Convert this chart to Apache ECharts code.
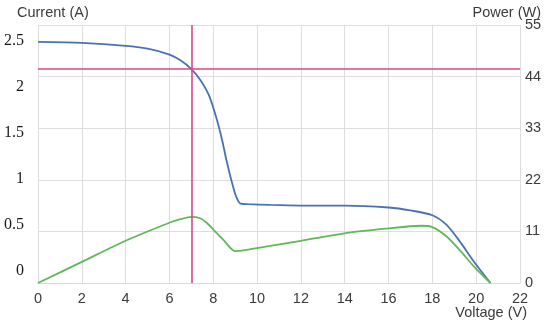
<!DOCTYPE html>
<html><head><meta charset="utf-8">
<script src="https://cdn.jsdelivr.net/npm/echarts@6/dist/echarts.min.js"></script>
<style>html,body{margin:0;padding:0;background:#fff}#c{width:550px;height:327px}</style>
</head><body><div id="c"></div>
<script>
// Data
var currentV = [0, 2, 4, 5, 6, 6.5, 7, 7.4, 7.8, 8.15, 8.4, 8.6, 8.85, 9.05, 9.25, 9.6, 10.6, 12, 14, 16, 17, 18, 18.65, 19.25, 19.9, 20.65];
var currentA = [2.49, 2.48, 2.45, 2.42, 2.36, 2.30, 2.21, 2.10, 1.94, 1.70, 1.48, 1.27, 1.04, 0.89, 0.82, 0.815, 0.806, 0.80, 0.80, 0.78, 0.75, 0.70, 0.60, 0.43, 0.22, 0];
var powerV = [0, 2, 4, 6, 6.5, 7, 7.4, 7.7, 8, 8.46, 9, 10.6, 12, 14, 16, 17, 17.5, 18, 18.65, 19.25, 19.9, 20.65];
var powerW = [0, 4.5, 9.0, 12.85, 13.6, 14.1, 13.8, 12.85, 11.4, 9.2, 6.8, 7.9, 9.0, 10.6, 11.66, 12.1, 12.2, 11.9, 9.9, 7.0, 3.5, 0];
var mppVoltage = 7.0;
var mppCurrent = 2.21;
var currentTicks = [0, 0.5, 1, 1.5, 2, 2.5];
var powerTicks = [0, 11, 22, 33, 44, 55];
var voltageTicks = [0, 2, 4, 6, 8, 10, 12, 14, 16, 18, 20, 22];

function pairs(xs, ys){ return xs.map(function(x,i){ return [x, ys[i]]; }); }

var chart = echarts.init(document.getElementById('c'), null, {renderer:'canvas'});
var txt = '#3a3a3a';
chart.setOption({
  animation:false,
  backgroundColor:'#fff',
  grid:[
    {left:38, right:30, top:25, bottom:44},
    {left:38, right:30, top:41, height:230}
  ],
  xAxis:[
    {gridIndex:0, type:'value', min:0, max:22, interval:2,
     axisLine:{show:true, lineStyle:{color:'#d9d9d9'}}, axisTick:{show:false},
     axisLabel:{color:txt, fontSize:14.5, fontFamily:'Liberation Sans, Arial', margin:8},
     splitLine:{show:true, lineStyle:{color:'#dedede', width:1}}},
    {gridIndex:1, type:'value', min:0, max:22, show:false}
  ],
  yAxis:[
    {gridIndex:0, type:'value', min:0, max:2.665, show:true,
     axisLine:{show:false}, axisTick:{show:false}, axisLabel:{show:false}, splitLine:{show:false}},
    {gridIndex:0, type:'value', min:0, max:55, interval:11, position:'right',
     axisLine:{show:false}, axisTick:{show:false},
     axisLabel:{color:txt, fontSize:14.5, fontFamily:'Liberation Sans, Arial', margin:5,
       formatter:function(v){ return powerTicks.indexOf(v) >= 0 ? String(v) : ''; }},
     splitLine:{show:true, lineStyle:{color:'#dedede', width:1}}},
    {gridIndex:1, type:'value', min:0, max:2.5, interval:0.5, position:'left',
     axisLine:{show:false}, axisTick:{show:false}, splitLine:{show:false},
     axisLabel:{color:'#1a1a1a', fontSize:16, fontFamily:'Liberation Serif, Times New Roman', margin:14,
       formatter:function(v){ return currentTicks.indexOf(v) >= 0 ? String(v) : ''; }}}
  ],
  series:[
    {type:'line', xAxisIndex:0, yAxisIndex:0, data:pairs(currentV, currentA), smooth:0.25,
     showSymbol:false, lineStyle:{color:'#4a72b2', width:1.8}, z:3,
     markLine:{silent:true, symbol:'none', label:{show:false},
       lineStyle:{color:'#d9478a', width:1.6, type:'solid'},
       data:[{xAxis:mppVoltage}, {yAxis:mppCurrent}]}},
    {type:'line', xAxisIndex:0, yAxisIndex:1, data:pairs(powerV, powerW), smooth:0.25,
     showSymbol:false, lineStyle:{color:'#5fb85a', width:1.8}, z:3}
  ],
  graphic:[
    {type:'text', left:17, top:5, style:{text:'Current (A)', fill:txt, font:'14.5px Liberation Sans, Arial'}},
    {type:'text', right:9, top:5, style:{text:'Power (W)', fill:txt, font:'14.5px Liberation Sans, Arial'}},
    {type:'text', right:23, top:305, style:{text:'Voltage (V)', fill:txt, font:'14.5px Liberation Sans, Arial'}}
  ]
});
</script></body></html>
